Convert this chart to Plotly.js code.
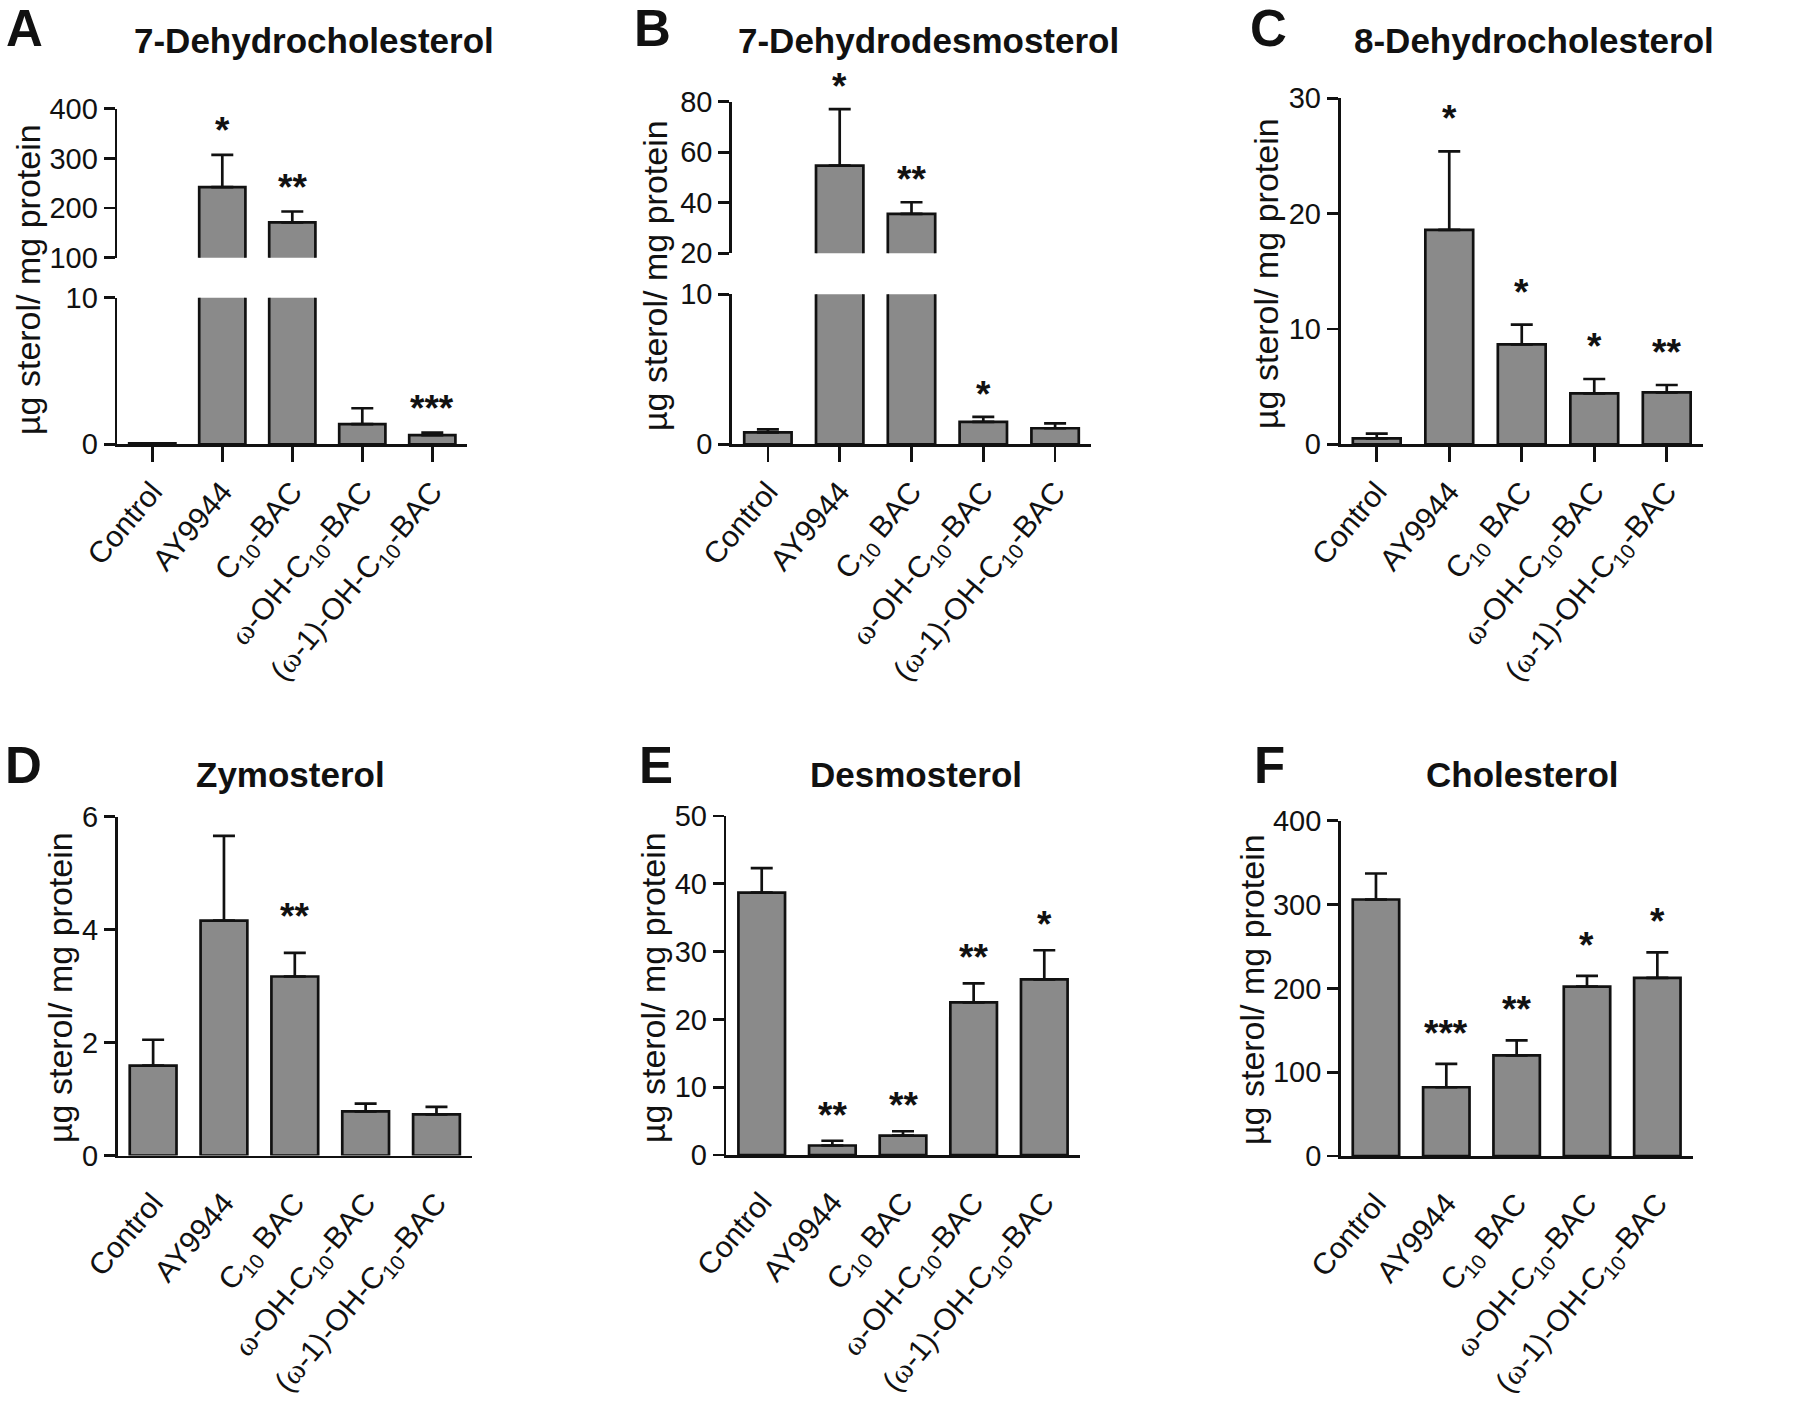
<!DOCTYPE html>
<html><head><meta charset="utf-8">
<script src="https://cdn.plot.ly/plotly-3.0.1.min.js"></script>
<style>body{margin:0;background:#fff}</style>
</head><body><div id="chart" style="width:1800px;height:1408px"></div>
<script>
// ---------------- data ----------------
const OMEGA = '<span style="font-family:Liberation Serif">ω</span>';
const categoriesA = ['Control', 'AY9944', 'C<sub>10</sub>-BAC', OMEGA + '-OH-C<sub>10</sub>-BAC', '(' + OMEGA + '-1)-OH-C<sub>10</sub>-BAC'];
const categories  = ['Control', 'AY9944', 'C<sub>10</sub> BAC', OMEGA + '-OH-C<sub>10</sub>-BAC', '(' + OMEGA + '-1)-OH-C<sub>10</sub>-BAC'];

const dhc7Mean  = [0.06, 242, 171, 1.38, 0.63];
const dhc7Sem   = [0, 65, 22, 1.08, 0.16];
const dhc7Stars = ['', '*', '**', '', '***'];

const dhd7Mean  = [0.8, 54.7, 35.6, 1.5, 1.07];
const dhd7Sem   = [0.2, 22.4, 4.6, 0.33, 0.33];
const dhd7Stars = ['', '*', '**', '*', ''];

const dhc8Mean  = [0.52, 18.6, 8.67, 4.42, 4.5];
const dhc8Sem   = [0.4, 6.8, 1.7, 1.24, 0.64];
const dhc8Stars = ['', '*', '*', '*', '**'];

const zymMean  = [1.59, 4.16, 3.17, 0.78, 0.73];
const zymSem   = [0.46, 1.5, 0.42, 0.14, 0.13];
const zymStars = ['', '', '**', '', ''];

const desMean  = [38.7, 1.4, 2.85, 22.5, 25.9];
const desSem   = [3.6, 0.7, 0.65, 2.8, 4.3];
const desStars = ['', '**', '**', '**', '*'];

const cholMean  = [306, 82, 120, 202, 212.5];
const cholSem   = [31, 28, 18, 13, 30.5];
const cholStars = ['', '***', '**', '*', '*'];

const titles  = ['7-Dehydrocholesterol', '7-Dehydrodesmosterol', '8-Dehydrocholesterol', 'Zymosterol', 'Desmosterol', 'Cholesterol'];
const letters = ['A', 'B', 'C', 'D', 'E', 'F'];
const yLabel  = 'µg sterol/ mg protein';

// ---------------- layout helpers ----------------
const W = 1800, H = 1408;
const fx = p => p / W;
const fy = p => 1 - p / H;
const FONT = 'Liberation Sans, Arial, sans-serif';
const BLACK = '#111';
const LW = 2.7;

const panels = [
  {mean: dhc7Mean, sem: dhc7Sem, stars: dhc7Stars, cats: categoriesA, xpx: [117.3, 467.3], xticks: true,
   lower: {px: [297.7, 444.3], range: [0, 10], ticks: [0, 10]},
   upper: {px: [108.7, 257.7], range: [100, 400], ticks: [100, 200, 300, 400]},
   title: [314, 40], letter: [24, 28], ylab: [28, 280], starShift: 2},
  {mean: dhd7Mean, sem: dhd7Sem, stars: dhd7Stars, cats: categories, xpx: [732, 1091], xticks: true,
   lower: {px: [294.3, 444.3], range: [0, 10], ticks: [0, 10]},
   upper: {px: [101.7, 253.3], range: [20, 80], ticks: [20, 40, 60, 80]},
   title: [928, 40], letter: [652, 28], ylab: [655, 276], starShift: 0},
  {mean: dhc8Mean, sem: dhc8Sem, stars: dhc8Stars, cats: categories, xpx: [1340.5, 1703], xticks: true,
   lower: {px: [98.3, 444.3], range: [0, 30], ticks: [0, 10, 20, 30]},
   title: [1534, 40], letter: [1268, 28], ylab: [1266, 274], starShift: 10},
  {mean: zymMean, sem: zymSem, stars: zymStars, cats: categories, xpx: [117.7, 471.9], xticks: false,
   lower: {px: [816.7, 1155.5], range: [0, 6], ticks: [0, 2, 4, 6]},
   title: [290, 774], letter: [23, 765], ylab: [60, 988], starShift: 14},
  {mean: desMean, sem: desSem, stars: desStars, cats: categories, xpx: [726.4, 1079.6], xticks: false,
   lower: {px: [816, 1155], range: [0, 50], ticks: [0, 10, 20, 30, 40, 50]},
   title: [916, 774], letter: [656, 765], ylab: [653, 988], starShift: 3},
  {mean: cholMean, sem: cholSem, stars: cholStars, cats: categories, xpx: [1340.8, 1692.5], xticks: false,
   lower: {px: [820.7, 1156], range: [0, 400], ticks: [0, 100, 200, 300, 400]},
   title: [1522, 774], letter: [1269, 765], ylab: [1252, 990], starShift: 8}
];

const traces = [];
const layout = {
  width: W, height: H,
  margin: {l: 0, r: 0, t: 0, b: 0, pad: 0},
  paper_bgcolor: '#ffffff', plot_bgcolor: 'rgba(0,0,0,0)',
  showlegend: false, bargap: 0.34,
  font: {family: FONT, color: BLACK},
  annotations: []
};

let axisN = 0;
function addAxes(p, seg, isLower) {
  axisN += 1;
  const sfx = axisN === 1 ? '' : String(axisN);
  const xa = {
    domain: [fx(p.xpx[0]), fx(p.xpx[1])], range: [-0.5, 4.5], type: 'category',
    anchor: 'y' + sfx, showgrid: false, zeroline: false, fixedrange: true
  };
  if (isLower) {
    Object.assign(xa, {
      showline: true, linecolor: BLACK, linewidth: LW,
      ticks: 'outside', ticklen: 15, tickwidth: LW,
      tickcolor: p.xticks ? BLACK : 'rgba(0,0,0,0)',
      tickangle: -50, tickfont: {family: FONT, size: 30, color: BLACK}
    });
  } else {
    xa.visible = false;
  }
  const ya = {
    domain: [fy(seg.px[1]), fy(seg.px[0])], range: seg.range, anchor: 'x' + sfx,
    tickmode: 'array', tickvals: seg.ticks,
    showline: true, linecolor: BLACK, linewidth: LW,
    ticks: 'outside', ticklen: 11, tickwidth: LW, tickcolor: BLACK,
    tickfont: {family: FONT, size: 29, color: BLACK},
    showgrid: false, zeroline: false, fixedrange: true
  };
  layout['xaxis' + sfx] = xa;
  layout['yaxis' + sfx] = ya;
  traces.push({
    type: 'bar', x: p.cats, y: p.mean, xaxis: 'x' + sfx, yaxis: 'y' + sfx,
    marker: {color: '#8a8a8a', line: {color: BLACK, width: LW}},
    error_y: {type: 'data', symmetric: false, array: p.sem, arrayminus: p.sem.map(() => 0),
              color: BLACK, thickness: LW, width: 11},
    hoverinfo: 'skip'
  });
  return sfx;
}

panels.forEach((p, k) => {
  const lowSfx = addAxes(p, p.lower, true);
  let upSfx = null;
  if (p.upper) upSfx = addAxes(p, p.upper, false);
  // significance stars
  p.stars.forEach((s, i) => {
    if (!s) return;
    const top = p.mean[i] + p.sem[i];
    const useUpper = p.upper && top > p.lower.range[1];
    const sfx = useUpper ? upSfx : lowSfx;
    layout.annotations.push({
      x: i, y: top, xref: 'x' + sfx, yref: 'y' + sfx, text: '<b>' + s + '</b>', showarrow: false,
      yanchor: 'bottom', yshift: p.starShift, font: {family: FONT, size: 37, color: BLACK}
    });
  });
  // title, letter, y label
  layout.annotations.push({
    x: fx(p.title[0]), y: fy(p.title[1]), xref: 'paper', yref: 'paper', xanchor: 'center', yanchor: 'middle',
    text: '<b>' + titles[k] + '</b>', showarrow: false, font: {family: FONT, size: 35, color: BLACK}
  });
  layout.annotations.push({
    x: fx(p.letter[0]), y: fy(p.letter[1]), xref: 'paper', yref: 'paper', xanchor: 'center', yanchor: 'middle',
    text: '<b>' + letters[k] + '</b>', showarrow: false, font: {family: FONT, size: 51, color: BLACK}
  });
  layout.annotations.push({
    x: fx(p.ylab[0]), y: fy(p.ylab[1]), xref: 'paper', yref: 'paper', xanchor: 'center', yanchor: 'middle',
    text: yLabel, textangle: -90, showarrow: false, font: {family: FONT, size: 34, color: BLACK}
  });
});

Plotly.newPlot('chart', traces, layout, {staticPlot: true, displayModeBar: false});
</script>
</body></html>
